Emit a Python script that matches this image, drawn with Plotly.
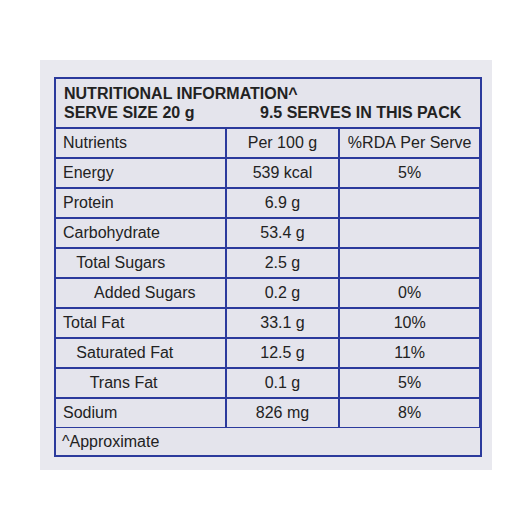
import plotly.graph_objects as go

nutrients = ["Energy", "Protein", "Carbohydrate", "\u00a0\u00a0\u00a0Total Sugars", "\u00a0\u00a0\u00a0\u00a0\u00a0\u00a0\u00a0Added Sugars",
             "Total Fat", "\u00a0\u00a0\u00a0Saturated Fat", "\u00a0\u00a0\u00a0\u00a0\u00a0\u00a0Trans Fat", "Sodium"]
per100 = ["539 kcal", "6.9 g", "53.4 g", "2.5 g", "0.2 g", "33.1 g", "12.5 g", "0.1 g", "826 mg"]
rda = ["5%", "", "", "", "0%", "10%", "11%", "5%", "8%"]
headers = ["Nutrients", "Per\u00a0100\u00a0g", "%RDA\u00a0Per\u00a0Serve"]

W = 526
OFF = 8
def X(p): return (p - OFF) / W
def Y(p): return 1 - (p - OFF) / W

blue = "#2b3a9c"
fill = "#e4e4ec"
txt = "#222222"
font = dict(family="Liberation Sans, Arial", size=16, color=txt)

fig = go.Figure(go.Table(
    domain=dict(x=[X(55), X(481)], y=[Y(428), Y(128)]),
    columnwidth=[171, 114, 141],
    header=dict(values=headers, fill_color=fill, line_color=blue, line_width=2,
                align=["left", "center", "center"], font=font, height=30),
    cells=dict(values=[nutrients, per100, rda], fill_color=fill, line_color=blue, line_width=2,
               align=["left", "center", "center"], font=font, height=30),
))

shapes = [
    dict(type="rect", xref="paper", yref="paper", x0=X(40), x1=X(492), y0=Y(470), y1=Y(60),
         fillcolor="#e9e9ef", line_width=0, layer="below"),
    dict(type="rect", xref="paper", yref="paper", x0=X(55), x1=X(481), y0=Y(456), y1=Y(78),
         fillcolor=fill, line=dict(color=blue, width=2), layer="below"),
]
ann = [
    dict(text="<b>NUTRITIONAL INFORMATION^</b>", x=X(62), y=Y(93), xanchor="left", yanchor="middle"),
    dict(text="<b>SERVE SIZE 20 g</b>", x=X(62), y=Y(112), xanchor="left", yanchor="middle"),
    dict(text="<b>9.5 SERVES IN THIS PACK</b>", x=X(258), y=Y(112), xanchor="left", yanchor="middle"),
    dict(text="^Approximate", x=X(60), y=Y(441), xanchor="left", yanchor="middle"),
]
for a in ann:
    a.update(xref="paper", yref="paper", showarrow=False, font=font)

fig.update_layout(width=W, height=W, margin=dict(l=0, r=0, t=0, b=0),
                  paper_bgcolor="white", plot_bgcolor="white", shapes=shapes, annotations=ann)
fig.write_html("out.html")
